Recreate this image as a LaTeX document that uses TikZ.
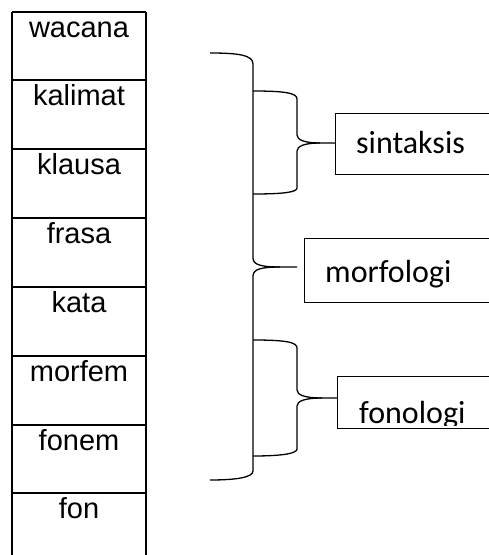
\documentclass[tikz,border=0pt]{standalone}
\usepackage{fontspec}
\usetikzlibrary{calc}
\setmainfont{Liberation Sans}
\newfontfamily\calfont{Carlito}
\begin{document}
\begin{tikzpicture}[x=1pt,y=-1pt,
  cell/.style={minimum width=134pt, anchor=north west, inner sep=0pt, outer sep=0pt},
  grid/.style={line width=1.9pt},
  celltext/.style={anchor=base, inner sep=0pt, font=\fontsize{29}{34}\selectfont},
  rbox/.style={draw, line width=1.2pt, minimum width=200pt, anchor=north west, inner sep=0pt},
  rtext/.style={anchor=base west, inner sep=0pt, font=\calfont\fontsize{32}{38}\selectfont},
  brace/.style={line width=1.3pt}]
\useasboundingbox (0,0) rectangle (489,555);
\clip (0,0) rectangle (489,555);
% left column
\foreach \t/\y/\h [count=\i] in {wacana/12/68,kalimat/80/69,klausa/149/69,frasa/218/69,kata/287/69,morfem/356/69,fonem/425/68,fon/493/69}{
  \node[cell, minimum height=\h pt] (c\i) at (12,\y) {};
  \node[celltext] (t\i) at ($(c\i.north)+(0,25.5)$) {\t};
  \draw[grid] (c\i.north west) -- (c\i.north east);
}
\draw[grid] (c8.south west) -- (c1.north west) (c1.north east) -- (c8.south east) -- (c8.south west);
% right boxes
\node[rbox, minimum height=61pt] (sin) at (335,113) {};
\node[rbox, minimum height=64pt] (mor) at (304,238) {};
\node[rbox, minimum height=52pt] (fon) at (337,376) {};
\node[rtext] (sint) at (356,153) {sintaksis};
\node[rtext] (mort) at (325,282) {morfologi};
\begin{scope}
  \clip (337,376) rectangle (489,425);
  \node[rtext] (font) at (359,423) {fonologi};
\end{scope}
% big brace
\coordinate (btip) at (280,267);
\coordinate (bend) at (297,267);
\draw[brace] (210,53) .. controls (238,53) and (253,55) .. (253,64) -- (253,258)
  .. controls (253,265) and (262,267) .. (btip) -- (bend);
\draw[brace] (btip) .. controls (262,267) and (253,269) .. (253,276) -- (253,471)
  .. controls (253,477) and (238,480) .. (210,480);
% sintaksis brace
\coordinate (stip) at (320,143);
\draw[brace] (253,91) .. controls (285,91) and (297,93) .. (297,99) -- (297,135)
  .. controls (297,140) and (305,143) .. (stip) -- (sin.west |- stip);
\draw[brace] (stip) .. controls (305,143) and (297,146) .. (297,151) -- (297,188)
  .. controls (297,192) and (285,194) .. (253,194);
% fonologi brace
\coordinate (ftip) at (322,398);
\draw[brace] (253,340) .. controls (285,340) and (297,342) .. (297,348) -- (297,390)
  .. controls (297,395) and (305,398) .. (ftip) -- (fon.west |- ftip);
\draw[brace] (ftip) .. controls (305,398) and (297,401) .. (297,406) -- (297,449)
  .. controls (297,453) and (285,456) .. (253,456);
\end{tikzpicture}
\end{document}
